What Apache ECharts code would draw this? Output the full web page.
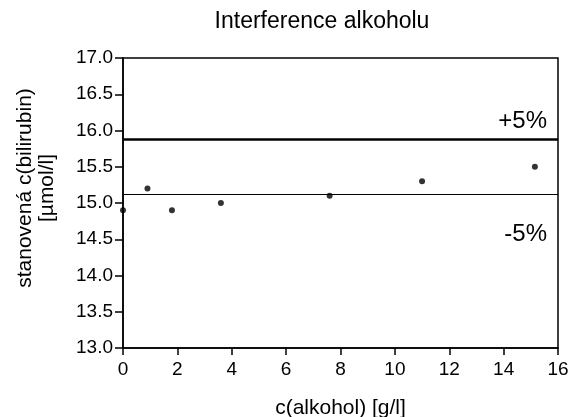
<!DOCTYPE html>
<html>
<head>
<meta charset="utf-8">
<script src="https://cdn.jsdelivr.net/npm/echarts@6/dist/echarts.min.js"></script>
<style>
html,body{margin:0;padding:0;background:#fff;}
#c{width:569px;height:417px;}
</style>
</head>
<body>
<div id="c"></div>
<script>
const titleText = 'Interference alkoholu';
const xName = 'c(alkohol) [g/l]';
const yName = 'stanovená c(bilirubin)\n[µmol/l]';
const alcohol = [0, 0.9, 1.8, 3.6, 7.6, 11.0, 15.15];
const bilirubin = [14.9, 15.2, 14.9, 15.0, 15.1, 15.3, 15.5];
const upperLimit = 15.88;
const lowerLimit = 15.12;
const upperLabel = '+5%';
const lowerLabel = '-5%';

const FONT = '"Liberation Sans", Arial, sans-serif';
const chart = echarts.init(document.getElementById('c'));
chart.setOption({
  animation: false,
  backgroundColor: '#fff',
  textStyle: {fontFamily: FONT, color: '#000'},
  grid: {left: 123, right: 11, top: 58, bottom: 69, show: true, borderColor: '#000', borderWidth: 1.5, backgroundColor: 'transparent', containLabel: false, outerBoundsMode: 'none'},
  xAxis: {
    type: 'value', min: 0, max: 16, interval: 2,
    name: xName, nameLocation: 'middle', nameGap: 50,
    nameTextStyle: {fontFamily: FONT, fontSize: 21, color: '#000'},
    axisLine: {lineStyle: {color: '#000', width: 1.5}},
    axisTick: {show: true, length: 7, lineStyle: {color: '#000', width: 1.5}},
    axisLabel: {fontFamily: FONT, fontSize: 19, color: '#000', margin: 12},
    splitLine: {show: false}
  },
  yAxis: {
    type: 'value', min: 13, max: 17, interval: 0.5,
    axisLine: {show: true, lineStyle: {color: '#000', width: 1.5}},
    axisTick: {show: true, length: 8, lineStyle: {color: '#000', width: 1.5}},
    axisLabel: {fontFamily: FONT, fontSize: 19, color: '#000', margin: 10, formatter: v => v.toFixed(1)},
    splitLine: {show: false}
  },
  graphic: [
    {type: 'text', x: 322, y: 22, style: {text: titleText, font: '23px ' + FONT, fill: '#000', align: 'center', verticalAlign: 'middle'}},
    {type: 'text', x: 36, y: 188, rotation: Math.PI / 2, style: {text: yName, font: '21px ' + FONT, fill: '#000', align: 'center', verticalAlign: 'middle', lineHeight: 22}},
    {type: 'text', x: 547, y: 121, style: {text: upperLabel, font: '24px ' + FONT, fill: '#000', align: 'right', verticalAlign: 'middle'}},
    {type: 'text', x: 547, y: 234, style: {text: lowerLabel, font: '24px ' + FONT, fill: '#000', align: 'right', verticalAlign: 'middle'}}
  ],
  series: [{
    type: 'scatter',
    data: alcohol.map((x, i) => [x, bilirubin[i]]),
    symbol: 'circle', symbolSize: 6,
    itemStyle: {color: '#000'},
    clip: false,
    markLine: {
      silent: true, symbol: 'none', label: {show: false},
      data: [
        {yAxis: upperLimit, lineStyle: {color: '#000', width: 2.6, type: 'solid'}},
        {yAxis: lowerLimit, lineStyle: {color: '#000', width: 1.2, type: 'solid'}}
      ]
    }
  }]
});
</script>
</body>
</html>
